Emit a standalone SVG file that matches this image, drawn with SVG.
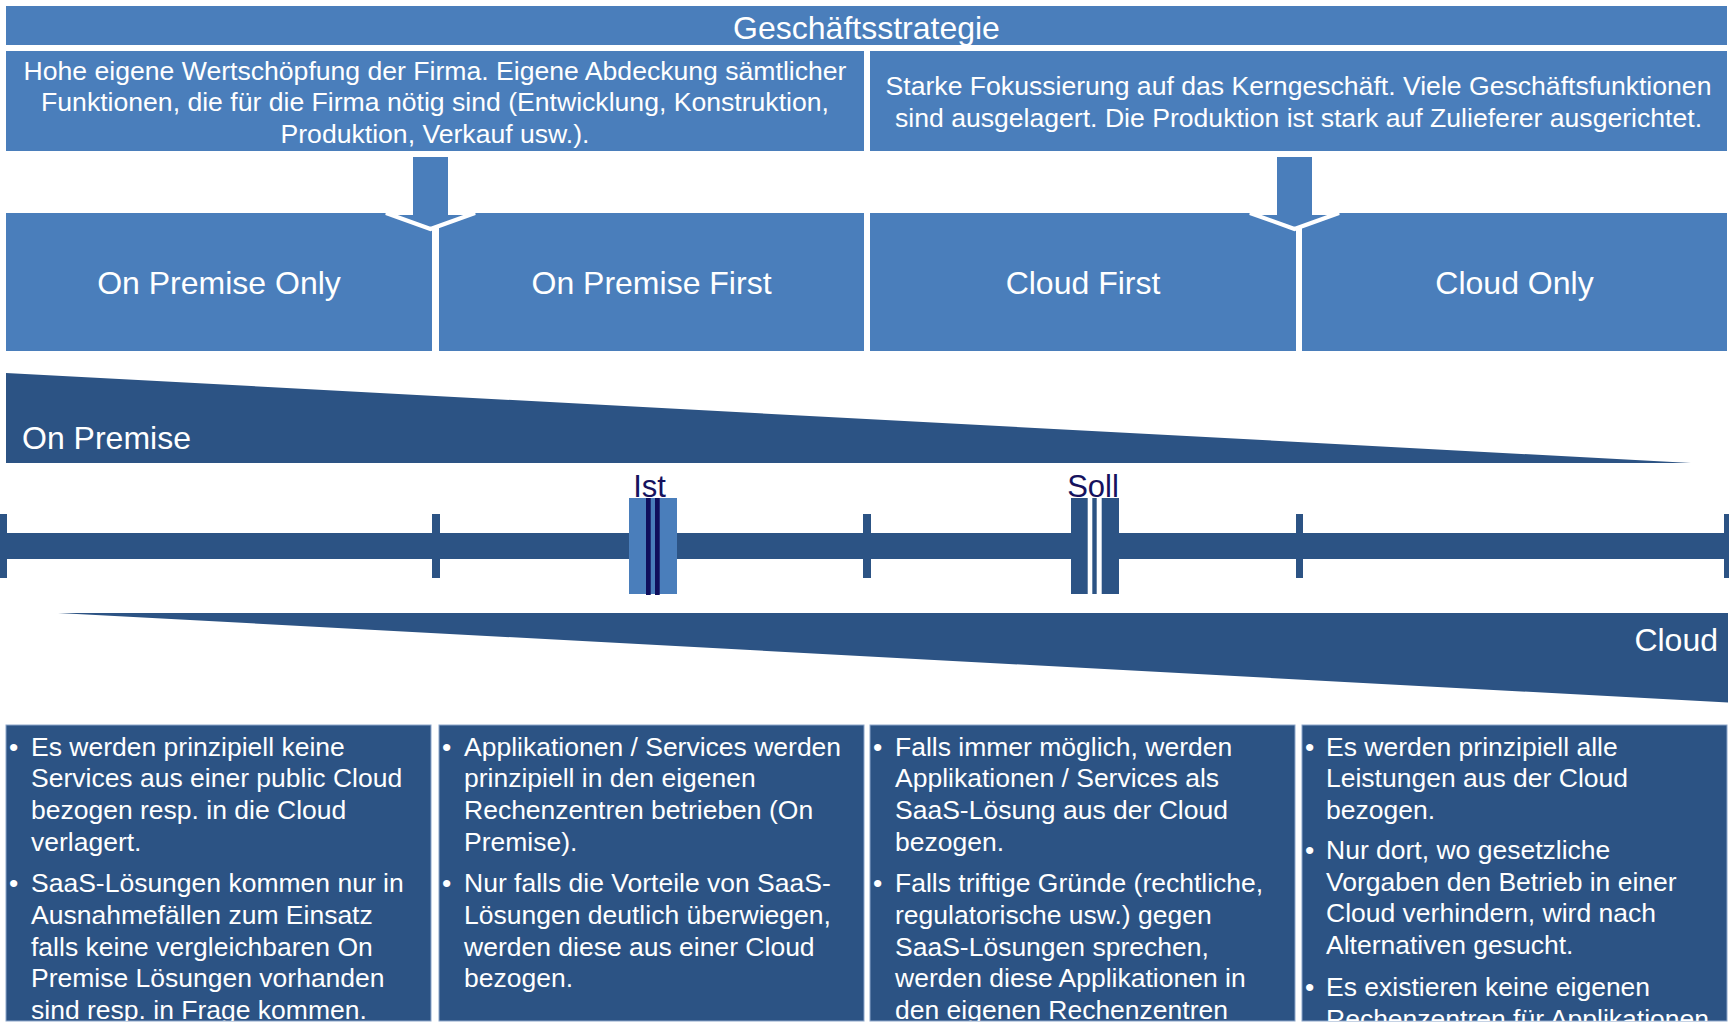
<svg xmlns="http://www.w3.org/2000/svg" width="1729" height="1023" viewBox="0 0 1729 1023">
<style>
.mid{fill:#4A7EBB}
.dark{fill:#2C5384}
.bbox{fill:#2C5384;stroke:#8CA6CA;stroke-width:1}
.t{font-family:"Liberation Sans",Arial,sans-serif;fill:#FFFFFF}
.big{font-size:32px;text-anchor:middle}
.desc{font-size:26.6px;text-anchor:middle}
.bul{font-size:26.5px}
.mk{font-family:"Liberation Sans",Arial,sans-serif;font-size:31px;fill:#16125E;text-anchor:middle}
.arrow{fill:#4A7EBB;stroke:#FFFFFF;stroke-width:4;stroke-linejoin:miter}
</style>
<defs>
<clipPath id="clipBottom"><rect x="0" y="725" width="1729" height="296"/></clipPath>
</defs>
<rect x="0" y="0" width="1729" height="1023" fill="#FFFFFF"/>

<g id="strategy">
<rect class="mid" x="6" y="6" width="1721" height="39"/>
<text class="t big" x="866.5" y="39">Geschäftsstrategie</text>
</g>

<g id="desc-left">
<rect class="mid" x="6" y="51" width="858" height="100"/>
<text class="t desc"><tspan x="435" y="79.5">Hohe eigene Wertschöpfung der Firma. Eigene Abdeckung sämtlicher</tspan><tspan x="435" y="111">Funktionen, die für die Firma nötig sind (Entwicklung, Konstruktion,</tspan><tspan x="435" y="142.5">Produktion, Verkauf usw.).</tspan></text>
</g>

<g id="desc-right">
<rect class="mid" x="870" y="51" width="857" height="100"/>
<text class="t desc"><tspan x="1298.5" y="95">Starke Fokussierung auf das Kerngeschäft. Viele Geschäftsfunktionen</tspan><tspan x="1298.5" y="126.7">sind ausgelagert. Die Produktion ist stark auf Zulieferer ausgerichtet.</tspan></text>
</g>

<g id="on-premise-only">
<rect class="mid" x="6" y="213" width="426" height="138"/>
<text class="t big" x="219" y="294">On Premise Only</text>
</g>
<g id="on-premise-first">
<rect class="mid" x="439" y="213" width="425" height="138"/>
<text class="t big" x="651.5" y="294">On Premise First</text>
</g>
<g id="cloud-first">
<rect class="mid" x="870" y="213" width="426" height="138"/>
<text class="t big" x="1083" y="294">Cloud First</text>
</g>
<g id="cloud-only">
<rect class="mid" x="1302" y="213" width="425" height="138"/>
<text class="t big" x="1514.5" y="294">Cloud Only</text>
</g>

<g id="connectors">
<polygon class="arrow" points="411,155 450,155 450,213 475,213 430.5,229 386,213 411,213"/>
<polygon class="arrow" points="1275,155 1314,155 1314,213 1339,213 1294.5,229 1250,213 1275,213"/>
</g>

<g id="on-premise-wedge">
<polygon class="dark" points="6,373 1691,463 6,463"/>
<text class="t" x="22" y="448.5" font-size="32">On Premise</text>
</g>

<g id="timeline">
<rect class="dark" x="0" y="533" width="1729" height="26"/>
<rect class="dark" x="-1" y="514" width="8" height="64"/>
<rect class="dark" x="432" y="514" width="8" height="64"/>
<rect class="dark" x="863" y="514" width="8" height="64"/>
<rect class="dark" x="1296" y="514" width="7" height="64"/>
<rect class="dark" x="1724" y="514" width="8" height="64"/>
</g>

<g id="ist">
<rect class="mid" x="629" y="498" width="48" height="96"/>
<rect x="646" y="498" width="4.7" height="97" fill="#100F5C"/>
<rect x="655" y="498" width="4.7" height="97" fill="#100F5C"/>
<text class="mk" x="649.5" y="497">Ist</text>
</g>

<g id="soll">
<rect class="dark" x="1071" y="498" width="48" height="96"/>
<rect x="1087.7" y="498" width="4.6" height="96" fill="#FFFFFF"/>
<rect x="1096.7" y="498" width="5" height="96" fill="#FFFFFF"/>
<text class="mk" x="1093" y="497">Soll</text>
</g>

<g id="cloud-wedge">
<polygon class="dark" points="58,613 1728,613 1728,702.5"/>
<text class="t" x="1718" y="650.5" font-size="32" text-anchor="end">Cloud</text>
</g>

<g id="detail-on-premise-only">
<rect class="bbox" x="6" y="725" width="425" height="296"/>
<g clip-path="url(#clipBottom)">
<text class="t bul"><tspan x="9" y="755.5">•</tspan><tspan x="9" y="892.2">•</tspan></text>
<text class="t bul"><tspan x="31" y="755.5">Es werden prinzipiell keine</tspan><tspan x="31" y="787.2">Services aus einer public Cloud</tspan><tspan x="31" y="818.9">bezogen resp. in die Cloud</tspan><tspan x="31" y="850.5">verlagert.</tspan><tspan x="31" y="892.2">SaaS-Lösungen kommen nur in</tspan><tspan x="31" y="923.9">Ausnahmefällen zum Einsatz</tspan><tspan x="31" y="955.5">falls keine vergleichbaren On</tspan><tspan x="31" y="987.2">Premise Lösungen vorhanden</tspan><tspan x="31" y="1018.9">sind resp. in Frage kommen.</tspan></text>
</g>
</g>

<g id="detail-on-premise-first">
<rect class="bbox" x="439" y="725" width="425" height="296"/>
<g clip-path="url(#clipBottom)">
<text class="t bul"><tspan x="442" y="755.5">•</tspan><tspan x="442" y="892.2">•</tspan></text>
<text class="t bul"><tspan x="464" y="755.5">Applikationen / Services werden</tspan><tspan x="464" y="787.2">prinzipiell in den eigenen</tspan><tspan x="464" y="818.9">Rechenzentren betrieben (On</tspan><tspan x="464" y="850.5">Premise).</tspan><tspan x="464" y="892.2">Nur falls die Vorteile von SaaS-</tspan><tspan x="464" y="923.9">Lösungen deutlich überwiegen,</tspan><tspan x="464" y="955.5">werden diese aus einer Cloud</tspan><tspan x="464" y="987.2">bezogen.</tspan></text>
</g>
</g>

<g id="detail-cloud-first">
<rect class="bbox" x="870" y="725" width="425" height="296"/>
<g clip-path="url(#clipBottom)">
<text class="t bul"><tspan x="873" y="755.5">•</tspan><tspan x="873" y="892.2">•</tspan></text>
<text class="t bul"><tspan x="895" y="755.5">Falls immer möglich, werden</tspan><tspan x="895" y="787.2">Applikationen / Services als</tspan><tspan x="895" y="818.9">SaaS-Lösung aus der Cloud</tspan><tspan x="895" y="850.5">bezogen.</tspan><tspan x="895" y="892.2">Falls triftige Gründe (rechtliche,</tspan><tspan x="895" y="923.9">regulatorische usw.) gegen</tspan><tspan x="895" y="955.5">SaaS-Lösungen sprechen,</tspan><tspan x="895" y="987.2">werden diese Applikationen in</tspan><tspan x="895" y="1018.9">den eigenen Rechenzentren</tspan></text>
</g>
</g>

<g id="detail-cloud-only">
<rect class="bbox" x="1302" y="725" width="425" height="296"/>
<g clip-path="url(#clipBottom)">
<text class="t bul"><tspan x="1305" y="755.5">•</tspan><tspan x="1305" y="859">•</tspan><tspan x="1305" y="996">•</tspan></text>
<text class="t bul"><tspan x="1326" y="755.5">Es werden prinzipiell alle</tspan><tspan x="1326" y="787.2">Leistungen aus der Cloud</tspan><tspan x="1326" y="818.9">bezogen.</tspan><tspan x="1326" y="859">Nur dort, wo gesetzliche</tspan><tspan x="1326" y="890.7">Vorgaben den Betrieb in einer</tspan><tspan x="1326" y="922.4">Cloud verhindern, wird nach</tspan><tspan x="1326" y="954">Alternativen gesucht.</tspan><tspan x="1326" y="996">Es existieren keine eigenen</tspan><tspan x="1326" y="1027.7">Rechenzentren für Applikationen</tspan></text>
</g>
</g>
</svg>
